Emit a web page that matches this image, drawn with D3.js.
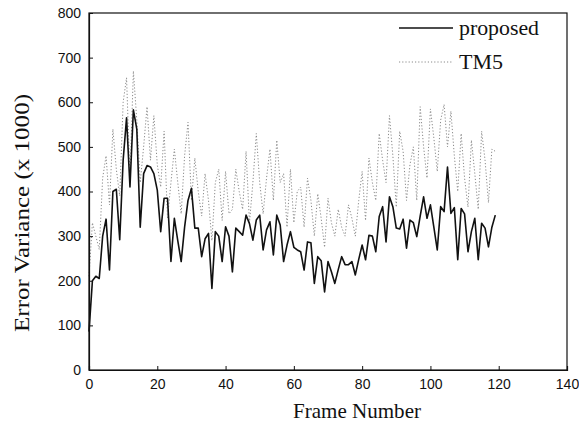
<!DOCTYPE html>
<html><head><meta charset="utf-8">
<script src="https://cdn.jsdelivr.net/npm/d3@7"></script>
<style>
html,body{margin:0;padding:0;background:#fff;}
svg{display:block;}
</style></head>
<body>
<svg id="chart" width="579" height="426"></svg>
<script>
const proposed = [86,200,210,205,300,338,224,400,405,292,
470,565,410,583,540,320,440,458,455,440,
403,310,385,385,243,340,290,243,320,380,
407,318,318,254,294,306,183,310,300,243,
321,300,220,318,310,302,347,328,291,336,
347,269,314,332,258,347,325,243,280,310,
275,269,265,224,287,285,194,254,245,175,
243,220,194,225,254,236,236,243,213,248,
280,247,302,300,265,344,366,287,388,366,
318,316,338,273,336,330,299,345,388,340,
370,320,269,366,355,455,351,364,247,362,
350,265,310,340,247,329,318,276,320,347];
const tm5 = [210,330,300,270,430,480,370,540,450,390,
600,655,430,670,560,420,500,590,470,570,
460,410,535,340,420,495,420,350,480,555,
380,475,400,345,440,380,290,420,450,335,
445,350,360,450,400,360,490,330,420,530,
420,350,430,495,380,515,420,440,320,450,
330,400,410,320,430,380,300,395,340,275,
385,330,300,360,320,300,370,340,300,380,
445,335,475,420,380,530,470,420,570,480,
365,535,490,380,460,500,380,590,500,430,
585,520,445,560,595,500,580,480,400,530,
430,365,515,440,360,535,470,375,495,490];
const frames = d3.range(proposed.length);
const xTicks = [0,20,40,60,80,100,120,140];
const yTicks = [0,100,200,300,400,500,600,700,800];
const seriesNames = ["proposed","TM5"];

const svg = d3.select("#chart");
const L = 89, R = 567, T = 13, B = 370;
const x = d3.scaleLinear().domain([0,140]).range([L,R]);
const y = d3.scaleLinear().domain([0,800]).range([B,T]);
const serif = "'Liberation Serif','Times New Roman',serif";

// TM5 dotted
const line = d3.line().x((d,i)=>x(frames[i])).y(d=>y(d));
svg.append("path").datum(tm5).attr("d", line)
  .attr("fill","none").attr("stroke","#8a8a8a").attr("stroke-width",1)
  .attr("stroke-dasharray","1.2,2");
// proposed solid
svg.append("path").datum(proposed).attr("d", line)
  .attr("fill","none").attr("stroke","#111").attr("stroke-width",1.6)
  .attr("stroke-linejoin","round");

// frame
svg.append("rect").attr("x",L).attr("y",T).attr("width",R-L).attr("height",B-T)
  .attr("fill","none").attr("stroke","#111").attr("stroke-width",1.2);

// axes
const xAxis = d3.axisBottom(x).tickValues(xTicks).tickSize(-4).tickPadding(9).tickFormat(d3.format("d"));
const gx = svg.append("g").attr("transform",`translate(0,${B})`).call(xAxis);
const yAxis = d3.axisLeft(y).tickValues(yTicks).tickSize(-4).tickPadding(8).tickFormat(d3.format("d"));
const gy = svg.append("g").attr("transform",`translate(${L},0)`).call(yAxis);
[gx,gy].forEach(g=>{
  g.select(".domain").attr("stroke","#111").attr("stroke-width",1.2);
  g.selectAll(".tick line").attr("stroke","#111");
  g.selectAll(".tick text").attr("fill","#111")
    .style("font-family","'Liberation Sans', Arial, sans-serif").style("font-size","14px");
});

// titles
svg.append("text").attr("x",357).attr("y",418).attr("text-anchor","middle")
  .style("font-family",serif).style("font-size","21px")
  .attr("textLength",128).attr("lengthAdjust","spacingAndGlyphs")
  .attr("fill","#111").text("Frame Number");
svg.append("text").attr("transform","translate(29,213) rotate(-90)").attr("text-anchor","middle")
  .style("font-family",serif).style("font-size","21px")
  .attr("textLength",238).attr("lengthAdjust","spacingAndGlyphs")
  .attr("fill","#111").text("Error Variance (x 1000)");

// legend
const leg = [{name:seriesNames[0], y:28, dash:null, color:"#111", w:1.4, len:80},
             {name:seriesNames[1], y:62, dash:"1.2,2", color:"#8a8a8a", w:1, len:44}];
leg.forEach(l=>{
  svg.append("line").attr("x1",399).attr("x2",453).attr("y1",l.y).attr("y2",l.y)
    .attr("stroke",l.color).attr("stroke-width",l.w).attr("stroke-dasharray",l.dash);
  svg.append("text").attr("x",459).attr("y",l.y+7)
    .style("font-family",serif).style("font-size","21px")
    .attr("textLength",l.len).attr("lengthAdjust","spacingAndGlyphs")
    .attr("fill","#111").text(l.name);
});
</script>
</body></html>
